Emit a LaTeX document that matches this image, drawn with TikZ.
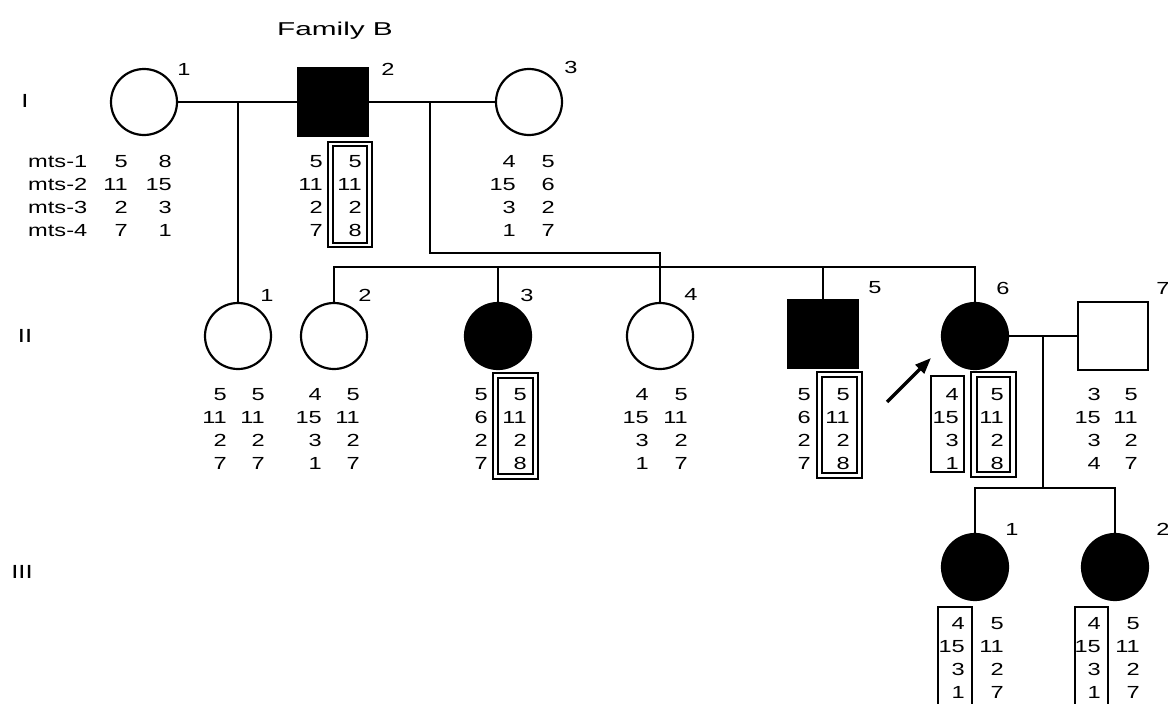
\documentclass[tikz,border=0pt]{standalone}
\usepackage{fontspec}
\setmainfont{Liberation Sans}
\newfontfamily\hapfont{Liberation Sans}[FakeStretch=1.35]
\newfontfamily\titlefont{Liberation Sans}[FakeStretch=1.6]
\usetikzlibrary{arrows.meta}

\tikzset{
  person/.style={draw=black, line width=2.2pt, inner sep=0pt, fill=white},
  female/.style={person, circle, minimum size=66pt},
  male/.style={person, rectangle, minimum width=70pt, minimum height=68pt},
  affected/.style={fill=black},
  line/.style={line width=2.1pt},
  num/.style={font=\hapfont\fontsize{17.5}{20}\selectfont, inner sep=0pt},
  idlabel/.style={num, anchor=center},
  genlabel/.style={font=\hapfont\fontsize{19}{20}\selectfont, inner sep=0pt},
  hapbox/.style={draw=black, line width=1.1pt},
  pointer/.style={line width=3.2pt, -{Triangle[length=16pt,width=12pt]}}
}

% one column of marker alleles, right aligned at x, first baseline at y
\newcommand\hapcol[4]{%
  \foreach \v [count=\k] in {#4}{%
    \node[num, anchor=base east] (#1-\k) at (#2,{#3+(\k-1)*23}) {\v};}}

\begin{document}
\begin{tikzpicture}[x=1pt, y=-1pt]
\useasboundingbox[fill=white] (0,0) rectangle (1168,704);

\node[font=\titlefont\fontsize{18.6}{20}\selectfont, inner sep=0pt] (title) at (335,31) {Family B};

% generation labels
\node[genlabel] (gI) at (25,101) {I};
\node[genlabel] (gII) at (25,336) {II};
\node[genlabel] (gIII) at (22,572) {III};

% generation I
\node[female] (i1) at (144,102) {};
\node[male, affected] (i2) at (333,102) {};
\node[female] (i3) at (529,102) {};
\node[idlabel] (li1) at (184,69) {1};
\node[idlabel] (li2) at (388,69) {2};
\node[idlabel] (li3) at (571,67) {3};

% generation II
\node[female] (ii1) at (238,336) {};
\node[female] (ii2) at (334,336) {};
\node[female, affected] (ii3) at (498,336) {};
\node[female] (ii4) at (660,336) {};
\node[male, affected] (ii5) at (823,334) {};
\node[female, affected] (ii6) at (975,336) {};
\node[male] (ii7) at (1113,336) {};
\node[idlabel] (lii1) at (267,295) {1};
\node[idlabel] (lii2) at (365,295) {2};
\node[idlabel] (lii3) at (527,295) {3};
\node[idlabel] (lii4) at (691,294) {4};
\node[idlabel] (lii5) at (875,288) {5};
\node[idlabel] (lii6) at (1003,288) {6};
\node[idlabel] (lii7) at (1163,288) {7};

% generation III
\node[female, affected] (iii1) at (975,567) {};
\node[female, affected] (iii2) at (1115,567) {};
\node[idlabel] (liii1) at (1012,529) {1};
\node[idlabel] (liii2) at (1163,529) {2};

% matings and descent lines
\coordinate (m1) at (238,102);
\coordinate (m2) at (430,102);
\coordinate (k1) at (430,253);
\coordinate (m3) at (1043,336);
\coordinate (s3) at (1043,488);

\draw[line] (i1) -- (i2);
\draw[line] (i2) -- (i3);
\draw[line] (m1) -- (ii1.north);
\draw[line] (m2) -- (k1) -| (ii4.north);
\draw[line] (ii2.north) -- ++(0,-35) -| (ii6.north);
\draw[line] (ii3.north) -- ++(0,-35);
\draw[line] (ii5.north) -- ++(0,-32);

\draw[line] (ii6) -- (ii7);
\draw[line] (m3) -- (s3);
\draw[line] (iii1.north) |- (s3);
\draw[line] (iii2.north) |- (s3);

% proband arrow
\coordinate (pa) at (887,402);
\coordinate (pb) at (931,358);
\draw[pointer] (pa) -- (pb);

% marker names
\foreach \n [count=\k] in {mts-1,mts-2,mts-3,mts-4}{%
  \node[num, anchor=base west] (mk\k) at (28,{167+(\k-1)*23}) {\n};}

% haplotypes, generation I
\hapcol{h11a}{128}{167}{5,11,2,7}
\hapcol{h11b}{172}{167}{8,15,3,1}
\hapcol{h12a}{323}{167}{5,11,2,7}
\hapcol{h12b}{362}{167}{5,11,2,8}
\hapcol{h13a}{516}{167}{4,15,3,1}
\hapcol{h13b}{555}{167}{5,6,2,7}
\draw[hapbox] (328,142) rectangle (372,247);
\draw[hapbox] (333,146) rectangle (367,243);

% haplotypes, generation II
\hapcol{h21a}{227}{400}{5,11,2,7}
\hapcol{h21b}{265}{400}{5,11,2,7}
\hapcol{h22a}{322}{400}{4,15,3,1}
\hapcol{h22b}{360}{400}{5,11,2,7}
\hapcol{h23a}{488}{400}{5,6,2,7}
\hapcol{h23b}{527}{400}{5,11,2,8}
\hapcol{h24a}{649}{400}{4,15,3,1}
\hapcol{h24b}{688}{400}{5,11,2,7}
\hapcol{h25a}{811}{400}{5,6,2,7}
\hapcol{h25b}{850}{400}{5,11,2,8}
\hapcol{h26a}{959}{400}{4,15,3,1}
\hapcol{h26b}{1004}{400}{5,11,2,8}
\hapcol{h27a}{1101}{400}{3,15,3,4}
\hapcol{h27b}{1138}{400}{5,11,2,7}
\draw[hapbox] (493,373) rectangle (538,479);
\draw[hapbox] (498,378) rectangle (533,474);
\draw[hapbox] (817,372) rectangle (862,478);
\draw[hapbox] (822,377) rectangle (857,473);
\draw[hapbox] (931,376) rectangle (964,472);
\draw[hapbox] (971,372) rectangle (1016,477);
\draw[hapbox] (977,377) rectangle (1010,472);

% haplotypes, generation III
\hapcol{h31a}{965}{629}{4,15,3,1}
\hapcol{h31b}{1004}{629}{5,11,2,7}
\hapcol{h32a}{1101}{629}{4,15,3,1}
\hapcol{h32b}{1140}{629}{5,11,2,7}
\draw[hapbox] (938,704) -- (938,607) -- (972,607) -- (972,704);
\draw[hapbox] (1075,704) -- (1075,607) -- (1108,607) -- (1108,704);
\end{tikzpicture}
\end{document}
